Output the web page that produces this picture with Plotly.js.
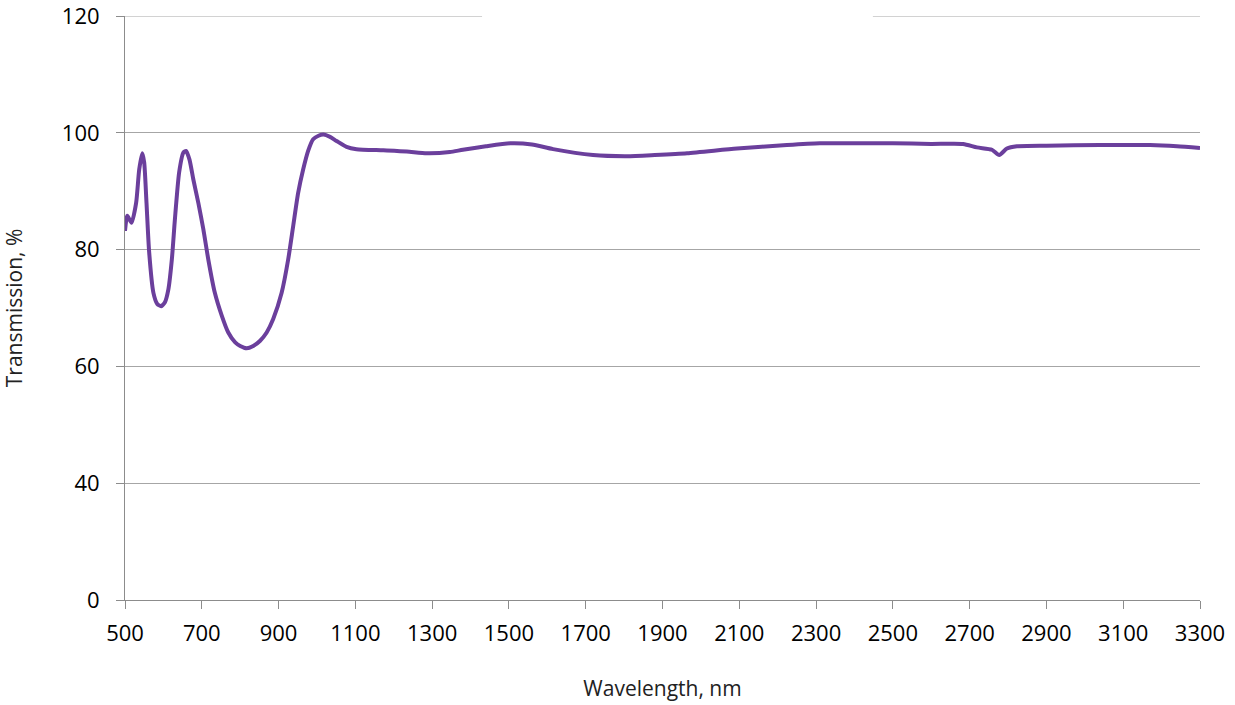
<!DOCTYPE html>
<html>
<head>
<meta charset="utf-8">
<script src="https://cdn.plot.ly/plotly-3.0.1.min.js"></script>
<style>html,body{margin:0;padding:0;background:#fff;}#chart{width:1235px;height:705px;}</style>
</head>
<body>
<div id="chart"></div>
<script>
const wavelength = [500, 506, 517, 529, 537, 545, 550, 556, 563, 574, 584, 594, 604, 613, 622, 630, 641, 652, 659, 668, 678, 691, 704, 717, 734, 752, 769, 787, 800, 817, 834, 852, 869, 886, 908, 925, 938, 951, 964, 977, 990, 1004, 1017, 1034, 1051, 1077, 1103, 1173, 1234, 1286, 1346, 1380, 1440, 1503, 1560, 1615, 1719, 1807, 1880, 1964, 2094, 2224, 2310, 2400, 2500, 2600, 2683, 2719, 2758, 2777, 2797, 2823, 2900, 3040, 3170, 3240, 3300];
const transmission = [83.2, 85.8, 84.6, 88.0, 93.7, 96.5, 94.9, 88.0, 79.5, 72.6, 70.7, 70.3, 71.0, 73.2, 78.3, 85.2, 93.2, 96.6, 96.9, 95.4, 92.0, 88.0, 83.5, 78.3, 72.6, 68.7, 65.8, 64.1, 63.5, 63.1, 63.5, 64.4, 65.8, 68.1, 72.6, 78.3, 84.0, 89.7, 93.7, 96.9, 98.9, 99.5, 99.7, 99.3, 98.6, 97.6, 97.2, 97.0, 96.8, 96.5, 96.7, 97.1, 97.7, 98.2, 98.0, 97.2, 96.2, 96.0, 96.2, 96.5, 97.3, 97.9, 98.2, 98.2, 98.2, 98.1, 98.1, 97.5, 97.1, 96.2, 97.3, 97.7, 97.8, 97.9, 97.9, 97.7, 97.4];
const yTickVals = [20, 40, 60, 80, 100, 120];
const yTickText = ['0', '40', '60', '80', '100', '120'];

const gridColor = '#a6a6a6';
Plotly.newPlot('chart', [{
  x: wavelength, y: transmission, type: 'scatter', mode: 'lines',
  line: {color: '#6b3f9c', width: 4, shape: 'spline', smoothing: 0.6},
  hoverinfo: 'x+y'
}], {
  width: 1235, height: 705,
  margin: {l: 125, r: 35, t: 16, b: 105},
  paper_bgcolor: '#fff', plot_bgcolor: '#fff',
  showlegend: false,
  font: {family: 'Open Sans, sans-serif', color: '#000'},
  xaxis: {
    range: [500, 3300], tick0: 500, dtick: 200,
    showgrid: false, zeroline: false,
    showline: true, linecolor: '#8c8c8c', linewidth: 1,
    ticks: 'outside', ticklen: 8, tickcolor: '#8c8c8c',
    ticklabelstandoff: 6, ticklabeloverflow: 'allow',
    tickfont: {size: 22, color: '#000'},
    title: {text: 'Wavelength, nm', font: {size: 21, color: '#222'}, standoff: 34}
  },
  yaxis: {
    range: [20, 120], tickvals: yTickVals, ticktext: yTickText,
    showgrid: true, gridcolor: gridColor, gridwidth: 1, zeroline: false,
    showline: true, linecolor: '#8c8c8c', linewidth: 1,
    ticks: 'outside', ticklen: 8, tickcolor: '#8c8c8c',
    ticklabelstandoff: 12, ticklabeloverflow: 'allow',
    tickfont: {size: 22, color: '#000'},
    title: {text: 'Transmission, %', font: {size: 21, color: '#222'}, standoff: 36}
  },
  shapes: [
    {type: 'line', xref: 'x', yref: 'y', x0: 500, x1: 1430, y0: 120, y1: 120, line: {color: gridColor, width: 1}, layer: 'below'},
    {type: 'line', xref: 'x', yref: 'y', x0: 2448, x1: 3300, y0: 120, y1: 120, line: {color: gridColor, width: 1}, layer: 'below'}
  ]
}, {displayModeBar: false});
</script>
</body>
</html>
